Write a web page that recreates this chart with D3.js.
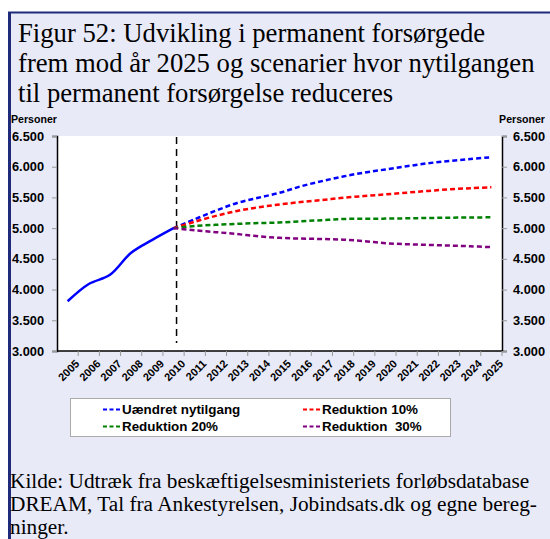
<!DOCTYPE html>
<html>
<head>
<meta charset="utf-8">
<script src="https://cdn.jsdelivr.net/npm/d3@7"></script>
<style>
  html, body { margin: 0; padding: 0; background: #ffffff; }
  svg { display: block; }
</style>
</head>
<body>
<svg id="chart" width="550" height="539"></svg>
<script>
// Years on the category axis
const years = ["2005","2006","2007","2008","2009","2010","2011","2012","2013","2014","2015",
               "2016","2017","2018","2019","2020","2021","2022","2023","2024","2025"];

// Observed stock of permanently supported persons, 2005-2010
const historyYears = ["2005","2006","2007","2008","2009","2010"];
const historyValues = [3810, 4090, 4240, 4600, 4810, 5000];

// Projections 2010-2025
const projectionYears = ["2010","2011","2012","2013","2014","2015","2016","2017",
                         "2018","2019","2020","2021","2022","2023","2024","2025"];
const uaendret = [5000, 5145, 5285, 5410, 5495, 5575, 5680, 5765, 5840, 5905, 5955, 6007, 6056, 6093, 6126, 6153];
const reduktion10 = [5000, 5105, 5200, 5280, 5340, 5385, 5425, 5458, 5493, 5523, 5550, 5578, 5605, 5632, 5649, 5665];
const reduktion20 = [5000, 5035, 5055, 5070, 5082, 5092, 5112, 5130, 5149, 5152, 5155, 5160, 5165, 5170, 5174, 5176];
const reduktion30 = [5000, 4965, 4935, 4903, 4868, 4842, 4830, 4823, 4812, 4788, 4755, 4738, 4727, 4716, 4705, 4690];

// Axis ticks
const yTicks = [3000, 3500, 4000, 4500, 5000, 5500, 6000, 6500];

// Legend entries
const seriesNames = ["Uændret nytilgang", "Reduktion 10%", "Reduktion 20%", "Reduktion  30%"];
const seriesColors = ["#0000ff", "#ff0000", "#008000", "#800080"];
const seriesValues = [uaendret, reduktion10, reduktion20, reduktion30];

const titleLines = [
  "Figur 52: Udvikling i permanent forsørgede",
  "frem mod år 2025 og scenarier hvor nytilgangen",
  "til permanent forsørgelse reduceres"
];
const sourceLines = [
  "Kilde: Udtræk fra beskæftigelsesministeriets forløbsdatabase",
  "DREAM, Tal fra Ankestyrelsen, Jobindsats.dk og egne bereg-",
  "ninger."
];

const svg = d3.select("#chart");
const W = 550, H = 539;
const sans = "'Liberation Sans', Arial, sans-serif";
const serif = "'Liberation Serif', 'Times New Roman', serif";

// Panel background and frame
svg.append("rect").attr("x", 9).attr("y", 12).attr("width", W - 9).attr("height", H - 12)
  .attr("fill", "#e8eaf8");
svg.append("line").attr("x1", 8).attr("x2", W).attr("y1", 12.5).attr("y2", 12.5)
  .attr("stroke", "#1f2a7a").attr("stroke-width", 2);
svg.append("line").attr("x1", 9.5).attr("x2", 9.5).attr("y1", 12).attr("y2", H)
  .attr("stroke", "#1f2a7a").attr("stroke-width", 3);

// Title
svg.append("g").selectAll("text").data(titleLines).join("text")
  .attr("x", 18).attr("y", (d, i) => 42 + i * 30)
  .attr("font-family", serif).attr("font-size", 26.7).attr("fill", "#000")
  .text(d => d);

// Plot area
const plot = { left: 57, right: 502, top: 136, bottom: 351 };
const x = d3.scaleBand().domain(years).range([plot.left, plot.right]).padding(0);
const cx = d => x(d) + x.bandwidth() / 2;
const y = d3.scaleLinear().domain([3000, 6500]).range([plot.bottom, plot.top]);

svg.append("rect").attr("x", plot.left).attr("y", plot.top)
  .attr("width", plot.right - plot.left).attr("height", plot.bottom - plot.top)
  .attr("fill", "#ffffff");

const da = d3.formatLocale({ decimal: ",", thousands: ".", grouping: [3], currency: ["", " kr."] });
const fmt = da.format(",");

// Left value axis
const gLeft = svg.append("g").attr("transform", `translate(${plot.left},0)`)
  .call(d3.axisLeft(y).tickValues(yTicks).tickFormat(fmt).tickSize(5).tickPadding(8));
// Right value axis
const gRight = svg.append("g").attr("transform", `translate(${plot.right},0)`)
  .call(d3.axisRight(y).tickValues(yTicks).tickFormat(fmt).tickSize(5).tickPadding(6));
[gLeft, gRight].forEach(g => {
  g.select(".domain").attr("stroke", "#000").attr("stroke-width", 1.5);
  g.selectAll(".tick line").attr("stroke", "#999");
  g.selectAll(".tick text").attr("font-family", sans).attr("font-size", 12.8)
    .attr("font-weight", "bold").attr("fill", "#000");
});

// Category axis: ticks on band boundaries, labels at band centres
const gBottom = svg.append("g").attr("transform", `translate(0,${plot.bottom})`);
gBottom.append("line").attr("x1", plot.left).attr("x2", plot.right)
  .attr("stroke", "#000").attr("stroke-width", 1.5);
gBottom.selectAll("line.tk").data(years.slice(1).concat(["end"])).join("line")
  .attr("class", "tk")
  .attr("x1", d => d === "end" ? plot.right : x(d))
  .attr("x2", d => d === "end" ? plot.right : x(d))
  .attr("y1", 0).attr("y2", 5).attr("stroke", "#999");
gBottom.selectAll("text").data(years).join("text")
  .attr("transform", d => `translate(${cx(d) + 7},${8}) rotate(-45)`)
  .attr("text-anchor", "end").attr("dy", "0.7em")
  .attr("font-family", sans).attr("font-size", 11).attr("font-weight", "bold")
  .text(d => d);

// Axis captions
svg.append("text").attr("x", 11).attr("y", 123)
  .attr("font-family", sans).attr("font-size", 10.6).attr("font-weight", "bold").text("Personer");
svg.append("text").attr("x", 545).attr("y", 123).attr("text-anchor", "end")
  .attr("font-family", sans).attr("font-size", 10.6).attr("font-weight", "bold").text("Personer");

// Divider between history and projections
svg.append("line").attr("x1", cx("2010") + 3).attr("x2", cx("2010") + 3)
  .attr("y1", plot.top + 1).attr("y2", plot.bottom - 8)
  .attr("stroke", "#000").attr("stroke-width", 1.5).attr("stroke-dasharray", "7,5");

// Lines
const line = d3.line().x(d => cx(d.year)).y(d => y(d.value)).curve(d3.curveCatmullRom.alpha(0.5));

seriesValues.forEach((vals, i) => {
  const data = projectionYears.map((yr, j) => ({ year: yr, value: vals[j] }));
  svg.append("path").datum(data).attr("d", line)
    .attr("fill", "none").attr("stroke", seriesColors[i]).attr("stroke-width", 2.5)
    .attr("stroke-dasharray", "5,3");
});

svg.append("path")
  .datum(historyYears.map((yr, j) => ({ year: yr, value: historyValues[j] })))
  .attr("d", line).attr("fill", "none").attr("stroke", "#0000ff").attr("stroke-width", 2.5);

// Legend
const lg = svg.append("g");
lg.append("rect").attr("x", 70.5).attr("y", 398.5).attr("width", 380).attr("height", 38)
  .attr("fill", "#ffffff").attr("stroke", "#aaaaaa");
const legendPos = [[103, 414], [303, 414], [103, 431], [303, 431]];
seriesNames.forEach((name, i) => {
  const [lx, ly] = legendPos[i];
  lg.append("line").attr("x1", lx).attr("x2", lx + 18).attr("y1", ly - 4.5).attr("y2", ly - 4.5)
    .attr("stroke", seriesColors[i]).attr("stroke-width", 2).attr("stroke-dasharray", "4,2.5");
  lg.append("text").attr("x", lx + 19).attr("y", ly)
    .attr("font-family", sans).attr("font-size", 13.4).attr("font-weight", "bold")
    .style("white-space", "pre").text(name);
});

// Source note
svg.append("g").selectAll("text").data(sourceLines).join("text")
  .attr("x", 10).attr("y", (d, i) => 488 + i * 23)
  .attr("font-family", serif).attr("font-size", 21.3).attr("fill", "#000")
  .text(d => d);
</script>
</body>
</html>
